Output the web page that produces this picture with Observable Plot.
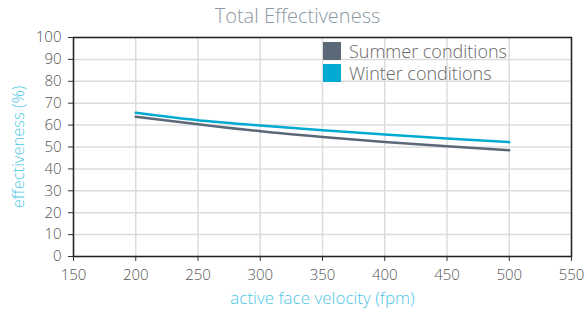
<!DOCTYPE html>
<html>
<head>
<meta charset="utf-8">
<script src="https://cdn.jsdelivr.net/npm/d3@7"></script>
<script src="https://cdn.jsdelivr.net/npm/@observablehq/plot@0.6"></script>
<style>
  body { margin: 0; background: #fff; font-family: "Open Sans", sans-serif; }
  #wrap { position: relative; width: 587px; height: 315px; }
  #title { height: 24px; line-height: 32px; text-align: center; font-size: 20px; color: #8c98a3; font-weight: 300; padding-left: 8px; }
  #legend { position: absolute; left: 323px; top: 40px; font-size: 18px; color: #666; font-weight: 300; }
  .li { display: flex; align-items: center; height: 22px; }
  .sw { width: 18px; height: 18px; margin-right: 8px; }
  svg g[aria-label="y-axis tick label"] text, svg g[aria-label="x-axis tick label"] text { fill: #555; }
</style>
</head>
<body>
<div id="wrap">
  <div id="title">Total Effectiveness</div>
  <div id="chart"></div>
  <div id="legend"></div>
</div>
<script>
const velocity = [200, 250, 300, 350, 400, 450, 500];
const summer = [63.8, 60.4, 57.2, 54.6, 52.3, 50.3, 48.5];
const winter = [65.6, 62.2, 59.8, 57.6, 55.7, 53.9, 52.2];
const seriesNames = ["Summer conditions", "Winter conditions"];
const seriesColors = ["#5b6878", "#00aad0"];
const xTicks = [150, 200, 250, 300, 350, 400, 450, 500, 550];
const yTicks = [0, 10, 20, 30, 40, 50, 60, 70, 80, 90, 100];
const title = "Total Effectiveness";
const xLabel = "active face velocity (fpm)";
const yLabel = "effectiveness (%)";

const rows = [];
velocity.forEach((v, i) => {
  rows.push({x: v, y: summer[i], s: seriesNames[0]});
  rows.push({x: v, y: winter[i], s: seriesNames[1]});
});

const chart = Plot.plot({
  width: 587,
  height: 291,
  marginTop: 13,
  marginBottom: 59,
  marginLeft: 73,
  marginRight: 16,
  style: {fontFamily: "'Open Sans', sans-serif", fontSize: "15px", fontWeight: 300, color: "#333", background: "#fff"},
  x: {domain: [150, 550]},
  y: {domain: [0, 100]},
  color: {domain: seriesNames, range: seriesColors},
  marks: [
    Plot.gridX(xTicks, {stroke: "#dcdcdc", strokeOpacity: 1, strokeWidth: 1.5}),
    Plot.gridY(yTicks, {stroke: "#dcdcdc", strokeOpacity: 1, strokeWidth: 1.5}),
    Plot.axisX(xTicks, {tickSize: 5, tickPadding: 8, label: null, stroke: "#333", fontSize: 15}),
    Plot.axisY(yTicks, {tickSize: 5, tickPadding: 7, label: null, stroke: "#333", fontSize: 15}),
    Plot.line(rows, {x: "x", y: "y", z: "s", stroke: "s", strokeWidth: 2.5, curve: "monotone-x"}),
    Plot.frame({stroke: "#222", strokeWidth: 1.5}),
    Plot.text([xLabel], {frameAnchor: "bottom", dy: 47, fill: "#4cc6e6", fontSize: 17}),
    Plot.text([yLabel], {frameAnchor: "left", textAnchor: "middle", dx: -55, rotate: -90, fill: "#4cc6e6", fontSize: 16.5})
  ]
});
document.getElementById("chart").appendChild(chart);
document.getElementById("title").textContent = title;

const legend = document.getElementById("legend");
seriesNames.forEach((n, i) => {
  const d = document.createElement("div");
  d.className = "li";
  d.innerHTML = `<span class="sw" style="background:${seriesColors[i]}"></span><span>${n}</span>`;
  legend.appendChild(d);
});
</script>
</body>
</html>
